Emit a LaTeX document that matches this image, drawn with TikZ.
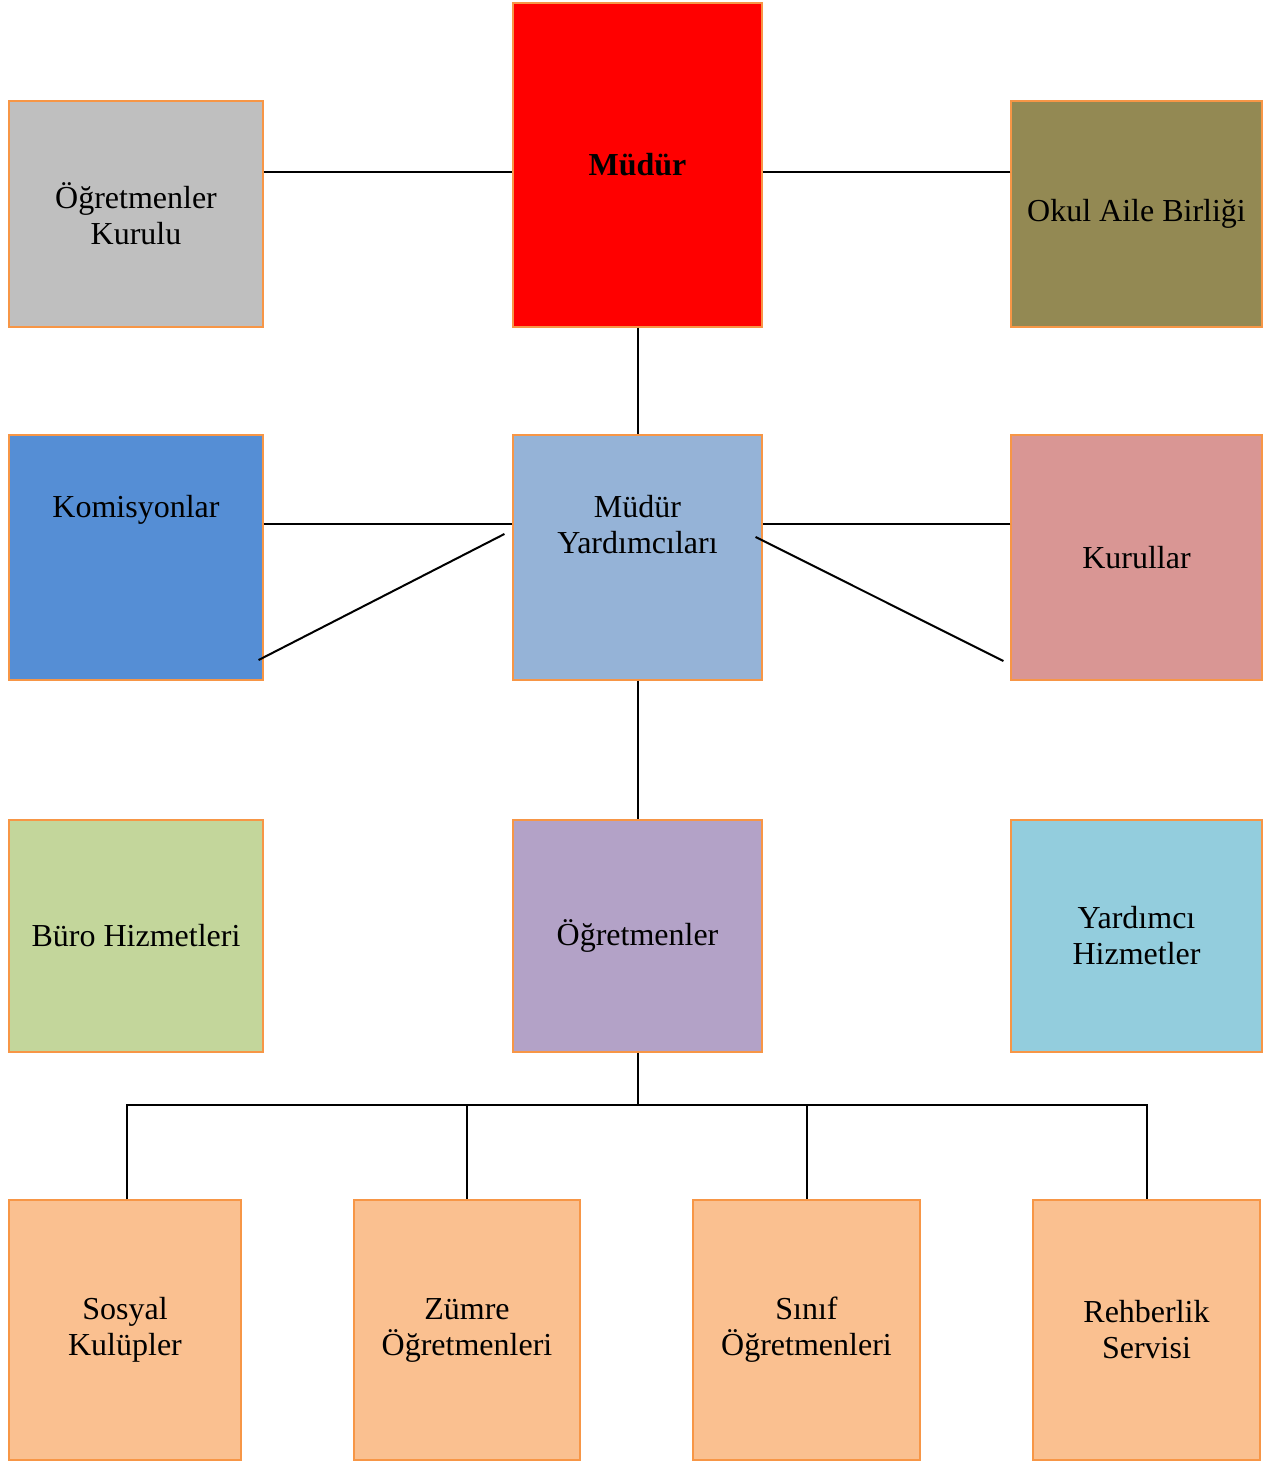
\documentclass[tikz,border=0pt]{standalone}
\usepackage{fontspec}
\setmainfont{Liberation Serif}
\usepackage{tikz}
\usetikzlibrary{calc}
\definecolor{cerceve}{HTML}{F79646}
\definecolor{gri}{HTML}{BFBFBF}
\definecolor{zeytin}{HTML}{938953}
\definecolor{mavi}{HTML}{558ED5}
\definecolor{acikmavi}{HTML}{95B3D7}
\definecolor{pembe}{HTML}{D99694}
\definecolor{yesil}{HTML}{C3D69B}
\definecolor{mor}{HTML}{B3A2C7}
\definecolor{camgobegi}{HTML}{93CDDD}
\definecolor{seftali}{HTML}{FAC090}

\begin{document}
\begin{tikzpicture}[x=0.5pt,y=-0.5pt,
	kutu/.style={draw=cerceve, line width=0.6pt, rectangle, inner sep=0pt,
		align=center, font=\fontsize{16pt}{18pt}\selectfont},
	boy/.style 2 args={minimum width=#1pt, minimum height=#2pt},
	ustyazi/.style={anchor=north, yshift=-27pt, align=center,
		font=\fontsize{16pt}{18pt}\selectfont},
	baglanti/.style={draw=black, line width=1pt}]
	\useasboundingbox (0,0) rectangle (1279,1462);

	\node[kutu, fill=gri, boy={127}{113}] (kurul) at (136,214) {Öğretmenler\\Kurulu};
	\node[kutu, fill=red, boy={124.5}{162}] (mudur) at (637.5,165) {\textbf{Müdür}};
	\node[kutu, fill=zeytin, boy={125.5}{113}] (aile) at (1136.5,214) {Okul Aile Birliği};

	\node[kutu, fill=mavi, boy={127}{122.5},
		label={[ustyazi]north:Komisyonlar}] (komisyon) at (136,557.5) {};
	\node[kutu, fill=acikmavi, boy={124.5}{122.5},
		label={[ustyazi]north:Müdür\\Yardımcıları}] (yard) at (637.5,557.5) {};
	\node[kutu, fill=pembe, boy={125.5}{122.5}] (kurullar) at (1136.5,557.5) {Kurullar};

	\node[kutu, fill=yesil, boy={127}{116}] (buro) at (136,936) {Büro Hizmetleri};
	\node[kutu, fill=mor, boy={124.5}{116}] (ogretmen) at (637.5,936) {Öğretmenler};
	\node[kutu, fill=camgobegi, boy={125.5}{116}] (yardimci) at (1136.5,936) {Yardımcı\\Hizmetler};

	\node[kutu, fill=seftali, boy={116}{130}] (sosyal) at (125,1330) {Sosyal\\Kulüpler};
	\node[kutu, fill=seftali, boy={113}{130}] (zumre) at (467,1330) {Zümre\\Öğretmenleri};
	\node[kutu, fill=seftali, boy={113.5}{130}] (sinif) at (806.5,1330) {Sınıf\\Öğretmenleri};
	\node[kutu, fill=seftali, boy={113.5}{130}] (rehber) at (1146.5,1330) {Rehberlik\\Servisi};

	\coordinate (dal) at (637.5,1105);
	\coordinate (solucu) at (127,1105);

	% ust sira
	\draw[baglanti] ([yshift=21pt]kurul.east) -- ([yshift=21pt]kurul.east -| mudur.west);
	\draw[baglanti] ([yshift=21pt]aile.west) -- ([yshift=21pt]aile.west -| mudur.east);
	\draw[baglanti] (mudur.south) -- (yard.north);

	% orta sira
	\draw[baglanti] ([yshift=17pt]komisyon.east) -- ([yshift=17pt]komisyon.east -| yard.west);
	\draw[baglanti] ([yshift=17pt]kurullar.west) -- ([yshift=17pt]kurullar.west -| yard.east);
	\draw[baglanti] ($(yard.west)+(-8,-23.5)$) -- ($(komisyon.east)+(-5,102.5)$);
	\draw[baglanti] ($(yard.east)+(-7,-20.5)$) -- ($(kurullar.west)+(-7,103.5)$);
	\draw[baglanti] (yard.south) -- (ogretmen.north);

	% alt sira
	\draw[baglanti] (ogretmen.south) -- (dal);
	\draw[baglanti] (solucu |- sosyal.north) -- (solucu) -- (dal -| rehber.north) -- (rehber.north);
	\foreach \k in {zumre,sinif}
		\draw[baglanti] (dal -| \k.north) -- (\k.north);

\end{tikzpicture}
\end{document}
